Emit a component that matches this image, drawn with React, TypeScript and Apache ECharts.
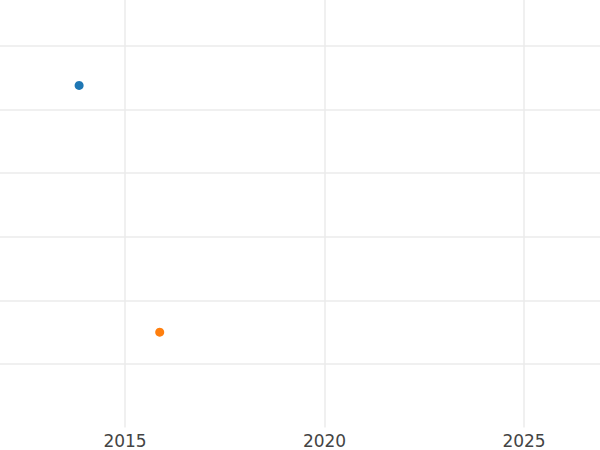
import React, { useEffect, useRef } from "react";
import * as echarts from "echarts";

const seriesNames = ["A", "B"];
const seriesColors = ["#1f77b4", "#ff7f0e"];
const xValues = [2013.85, 2015.87];
const yValues = [5.38, 1.5];
const xTickLabels = [2015, 2020, 2025];

export default function App() {
  const ref = useRef<HTMLDivElement>(null);
  useEffect(() => {
    if (!ref.current) return;
    const chart = echarts.init(ref.current, undefined, { renderer: "svg" });
    const pxPerYear = 39.9;
    const xMin = 2010;
    const xMax = 2030;
    const leftPx = 125 - (2015 - xMin) * pxPerYear;
    const widthPx = (xMax - xMin) * pxPerYear;
    const pxPerUnit = 63.6;
    const yMin = 0;
    const yMax = 7;
    const bottomPx = 427.6;
    const heightPx = (yMax - yMin) * pxPerUnit;
    chart.setOption({
      animation: false,
      backgroundColor: "#ffffff",
      textStyle: { fontFamily: "DejaVu Sans" },
      grid: {
        left: leftPx,
        width: widthPx,
        top: bottomPx - heightPx,
        height: heightPx,
        containLabel: false,
        outerBoundsMode: "none",
      },
      xAxis: {
        type: "value",
        min: xMin,
        max: xMax,
        interval: 5,
        axisLine: { show: false },
        axisTick: { show: false },
        axisLabel: {
          color: "#444444",
          fontSize: 17,
          margin: 5,
          fontFamily: "DejaVu Sans",
          formatter: (v: number) => (xTickLabels.includes(v) ? String(v) : ""),
        },
        splitLine: { show: true, lineStyle: { color: "#ebebeb", width: 1.5 } },
      },
      yAxis: {
        type: "value",
        min: yMin,
        max: yMax,
        interval: 1,
        axisLine: { show: false },
        axisTick: { show: false },
        axisLabel: { show: false },
        splitLine: {
          show: true,
          showMinLine: false,
          lineStyle: { color: "#ebebeb", width: 1.5 },
        },
      },
      series: seriesNames.map((name, i) => ({
        name,
        type: "scatter",
        symbolSize: 9,
        itemStyle: { color: seriesColors[i], opacity: 1 },
        data: [[xValues[i], yValues[i]]],
      })),
    });
    return () => chart.dispose();
  }, []);
  return (
    <div
      ref={ref}
      style={{ position: "fixed", left: 0, top: 0, width: 600, height: 450 }}
    />
  );
}
